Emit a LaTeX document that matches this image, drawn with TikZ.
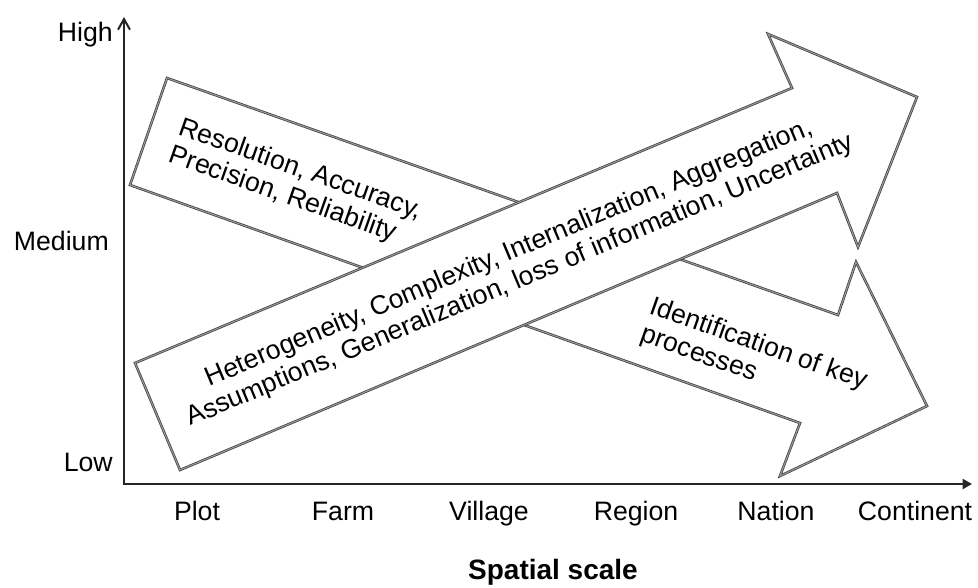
\documentclass[tikz,border=0pt]{standalone}
\usepackage{fontspec}
\setmainfont{Liberation Sans}
\usetikzlibrary{arrows.meta}

\begin{document}
\begin{tikzpicture}[x=0.75pt,y=-0.75pt,
  bigarrow/.style={fill=white, draw=black!75, line width=0.55pt,
    double=black!40, double distance=0.8pt, line join=miter},
  axisline/.style={draw=black!85, line width=1.5pt, line join=miter},
  levellabel/.style={font=\fontsize{20}{22}\selectfont, inner sep=0pt, anchor=base east},
  scalelabel/.style={font=\fontsize{20}{22}\selectfont, inner sep=0pt, anchor=base},
  arrowtext/.style={font=\fontsize{20}{22}\selectfont, inner sep=0pt}
]
\useasboundingbox (0,0) rectangle (978,587);

% axes
\coordinate (ytop) at (124,17);
\coordinate (origin) at (124,484);
\coordinate (xend) at (972,484);
\draw[axisline, {Straight Barb[length=8pt,width=9pt]}-{Triangle[length=7pt,width=7.5pt]}]
  (ytop) -- (origin) -- (xend);

% level labels on the vertical axis
\node[levellabel] (high) at (113,41) {High};
\node[levellabel] (medium) at (109,250) {Medium};
\node[levellabel] (low) at (113,471) {Low};

% scale labels on the horizontal axis
\node[scalelabel] (plot) at (197,520) {Plot};
\node[scalelabel] (farm) at (343,520) {Farm};
\node[scalelabel] (village) at (489,520) {Village};
\node[scalelabel] (region) at (636,520) {Region};
\node[scalelabel] (nation) at (776,520) {Nation};
\node[scalelabel] (continent) at (915,520) {Continent};
\node[font=\fontsize{21}{24}\selectfont\bfseries, inner sep=0pt, anchor=base] (title) at (553,579) {Spatial scale};

% falling arrow: fine-scale qualities
\draw[bigarrow] (167,78) -- (838,315) -- (856,262) -- (927,406) -- (780,476) -- (800,423) -- (130,185) -- cycle;
\node[arrowtext, rotate=-19.45, align=left] (res) at (295.7,184) {Resolution, Accuracy,\\Precision, Reliability};
\node[arrowtext, rotate=-19.45, align=left] (ident) at (753.9,358.5) {Identification of key\\processes};

% rising arrow: coarse-scale qualities
\draw[bigarrow] (135,363) -- (792,88) -- (768,34) -- (917,97) -- (858,247) -- (837,193) -- (180,470) -- cycle;
\node[arrowtext, rotate=22.7, align=center] (het) at (514.7,267.1)
  {Heterogeneity, Complexity, Internalization, Aggregation,\\Assumptions, Generalization, loss of information, Uncertainty};
\end{tikzpicture}
\end{document}
